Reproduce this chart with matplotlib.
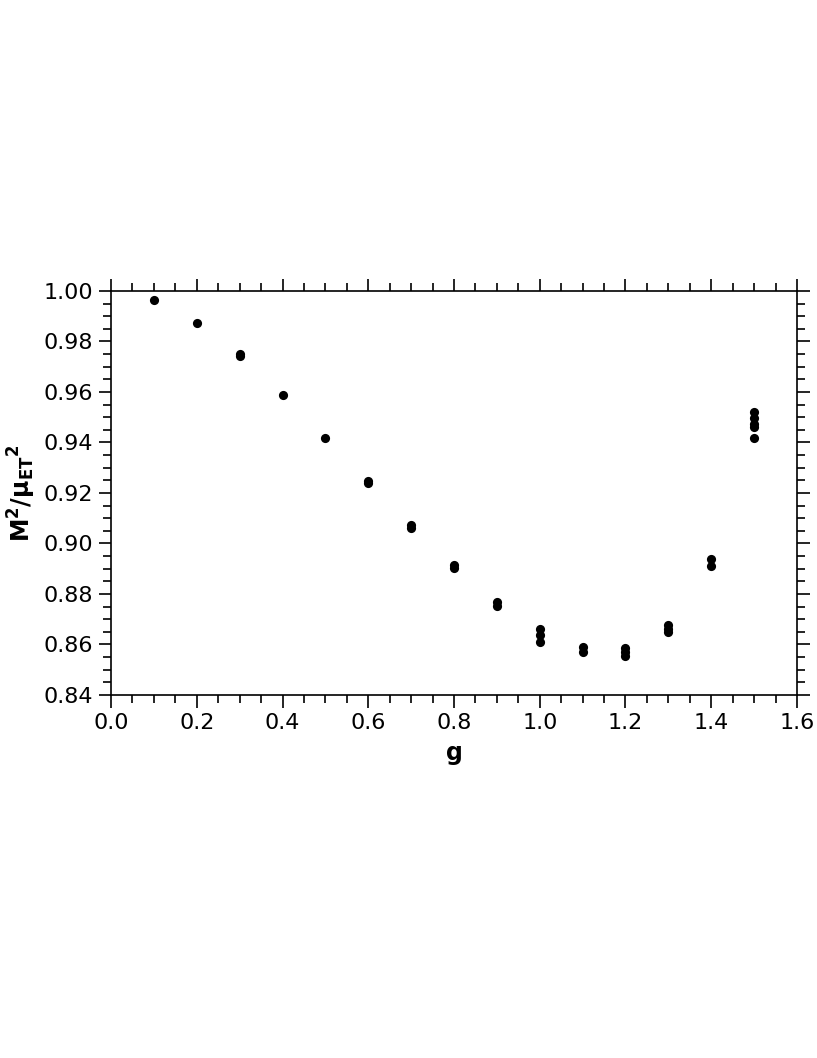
import matplotlib
matplotlib.use("Agg")
import matplotlib.pyplot as plt
from matplotlib.ticker import MultipleLocator, FormatStrFormatter

# Data
g_values = [0.1, 0.2, 0.3, 0.3, 0.4, 0.5, 0.6, 0.6, 0.7, 0.7, 0.8, 0.8,
            0.9, 0.9, 1.0, 1.0, 1.0, 1.1, 1.1, 1.2, 1.2, 1.2,
            1.3, 1.3, 1.3, 1.4, 1.4, 1.5, 1.5, 1.5, 1.5, 1.5]
m2_ratio = [0.9963, 0.9873, 0.9752, 0.9742, 0.9586, 0.9416, 0.9248, 0.9240,
            0.9073, 0.9063, 0.8915, 0.8903, 0.8769, 0.8753,
            0.8661, 0.8637, 0.8611, 0.8592, 0.8570,
            0.8588, 0.8570, 0.8553, 0.8677, 0.8662, 0.8650,
            0.8938, 0.8912, 0.9520, 0.9495, 0.9472, 0.9460, 0.9418]

x_ticks = [0.0, 0.2, 0.4, 0.6, 0.8, 1.0, 1.2, 1.4, 1.6]
y_ticks = [0.84, 0.86, 0.88, 0.90, 0.92, 0.94, 0.96, 0.98, 1.00]

plt.rcParams['font.family'] = ['DejaVu Sans']
plt.rcParams['mathtext.fontset'] = 'dejavusans'
plt.rcParams['mathtext.default'] = 'bf'

fig = plt.figure(figsize=(8.17, 10.58), dpi=100)
ax = fig.add_axes([0.1359, 0.3431, 0.9755 - 0.1359, 0.7250 - 0.3431])

ax.plot(g_values, m2_ratio, 'o', color='black', markersize=6.6, markeredgewidth=0)

ax.set_xlim(0.0, 1.6)
ax.set_ylim(0.84, 1.00)
ax.set_xticks(x_ticks)
ax.set_yticks(y_ticks)
ax.xaxis.set_minor_locator(MultipleLocator(0.05))
ax.yaxis.set_minor_locator(MultipleLocator(0.005))
ax.xaxis.set_major_formatter(FormatStrFormatter('%.1f'))
ax.yaxis.set_major_formatter(FormatStrFormatter('%.2f'))

ax.tick_params(which='both', direction='out', top=True, right=True,
               width=1.2, color='black', labelsize=16, pad=4)
ax.tick_params(which='major', length=9)
ax.tick_params(which='minor', length=5.5)
for s in ax.spines.values():
    s.set_linewidth(1.2)

ax.set_xlabel('g', fontsize=17, fontweight='bold', labelpad=6)
ax.set_ylabel(r'$M^2/\mu_{ET}{}^{2}$', fontsize=17, labelpad=4)

fig.savefig('out.png', dpi=100)
